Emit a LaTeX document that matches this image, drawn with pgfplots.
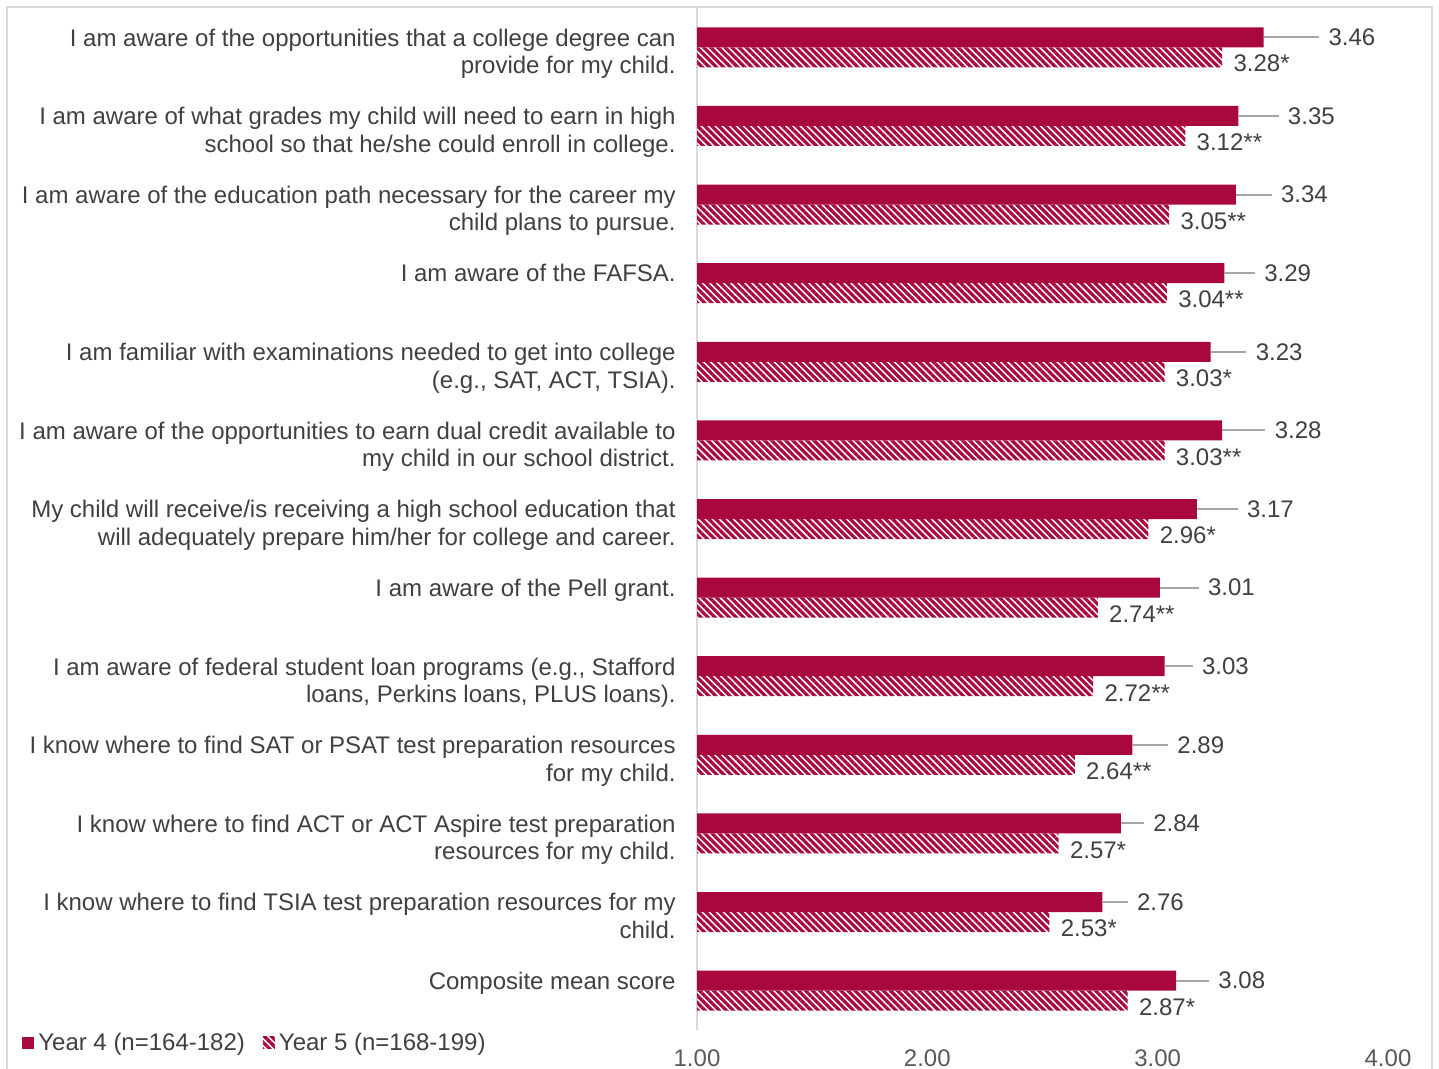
\documentclass[border=0pt]{standalone}
\usepackage{pgfplots}
\pgfplotsset{compat=1.18}
\usepackage{pgfplotstable}
\usepackage{fontspec}
\setmainfont{Liberation Sans}
\usetikzlibrary{patterns.meta}
\definecolor{barred}{RGB}{168,8,62}
\definecolor{txt}{HTML}{404040}
\definecolor{ticktxt}{HTML}{595959}
\definecolor{axisgray}{HTML}{D9D9D9}
\definecolor{leader}{HTML}{A6A6A6}
\pgfplotstableread{
idx y4 err y5 lab
0 3.46 0.241 3.28 3.28*
1 3.35 0.175 3.12 3.12**
2 3.34 0.155 3.05 3.05**
3 3.29 0.132 3.04 3.04**
4 3.23 0.155 3.03 3.03*
5 3.28 0.188 3.03 3.03**
6 3.17 0.177 2.96 2.96*
7 3.01 0.168 2.74 2.74**
8 3.03 0.122 2.72 2.72**
9 2.89 0.155 2.64 2.64**
10 2.84 0.100 2.57 2.57*
11 2.76 0.110 2.53 2.53*
12 3.08 0.143 2.87 2.87*
}\datatable
\newcommand{\lblfont}{\fontsize{12}{13.75}\selectfont}
\begin{document}
\begin{tikzpicture}
\useasboundingbox (0,0) rectangle (719.5pt,534.5pt);
\clip (0,0) rectangle (719.5pt,534.5pt);
\fill[white] (0,0) rectangle (719.5pt,534.5pt);
\draw[axisgray, line width=1pt] (3.35pt,-5pt) rectangle (715.85pt,531.15pt);
\begin{axis}[
  at={(348.5pt,19.5pt)}, anchor=south west,
  scale only axis, width=345.5pt, height=511pt,
  xbar, bar width=10pt,
  xmin=1, xmax=4, ymin=-0.5, ymax=12.5, y dir=reverse,
  clip=false,
  axis line style={draw=none},
  major tick length=0pt,
  xtick={1,2,3,4},
  ytick={0,...,12},
  yticklabels={
    {I am aware of the opportunities that a college degree can\\provide for my child.},
    {I am aware of what grades my child will need to earn in high\\school so that he/she could enroll in college.},
    {I am aware of the education path necessary for the career my\\child plans to pursue.},
    {I am aware of the FAFSA.},
    {I am familiar with examinations needed to get into college\\(e.g., SAT, ACT, TSIA).},
    {I am aware of the opportunities to earn dual credit available to\\my child in our school district.},
    {My child will receive/is receiving a high school education that\\will adequately prepare him/her for college and career.},
    {I am aware of the Pell grant.},
    {I am aware of federal student loan programs (e.g., Stafford\\loans, Perkins loans, PLUS loans).},
    {I know where to find SAT or PSAT test preparation resources\\for my child.},
    {I know where to find ACT or ACT Aspire test preparation\\resources for my child.},
    {I know where to find TSIA test preparation resources for my\\child.},
    {Composite mean score}
  },
  yticklabel style={align=right, anchor=north east, inner sep=0pt, xshift=-10.5pt, yshift=9.5pt, font=\lblfont, text=txt},
  xticklabel style={anchor=north, inner sep=0pt, yshift=-9.75pt, font=\lblfont, text=ticktxt,
    /pgf/number format/fixed, /pgf/number format/fixed zerofill, /pgf/number format/precision=2},
  /pgf/number format/assume math mode=true,
  legend style={at={(-0.9769,-0.0127)}, anchor=west, draw=none, fill=none, inner sep=0pt,
    legend columns=2, font=\lblfont, text=txt,
    /tikz/every even column/.append style={column sep=7pt}},
  legend cell align=left,
]
\draw[axisgray, line width=1pt] (rel axis cs:0,0) -- (rel axis cs:0,1);
\addplot[fill=barred, draw=none, bar shift=5pt,
  legend image code/.code={\fill[barred] (0pt,-3pt) rectangle (6pt,3pt);},
  point meta=x,
  visualization depends on={\thisrow{err} \as \errlen},
  nodes near coords={\pgfmathprintnumber[fixed,fixed zerofill,precision=2]{\pgfplotspointmeta}},
  nodes near coords align=horizontal,
  every node near coord/.append style={anchor=west, inner sep=0pt, xshift=\errlen*115.17pt+4.5pt, font=\lblfont, text=txt},
  error bars/.cd, x dir=plus, x explicit, error mark=none,
  error bar style={color=leader, line width=1pt}]
  table[x=y4, y=idx, x error=err] {\datatable};
\addlegendentry{Year 4 (n=164-182)}
\addplot[draw=none, pattern={Lines[angle=-45,distance=2.5pt,line width=1.6pt]}, pattern color=barred, bar shift=-5pt,
  legend image code/.code={\fill[pattern={Lines[angle=-45,distance=2.5pt,line width=1.6pt]}, pattern color=barred] (0pt,-3pt) rectangle (6pt,3pt);},
  point meta=explicit symbolic,
  nodes near coords,
  nodes near coords align=horizontal,
  every node near coord/.append style={anchor=west, inner sep=0pt, xshift=5.5pt, yshift=-3.2pt, font=\lblfont, text=txt}]
  table[x=y5, y=idx, meta=lab] {\datatable};
\addlegendentry{Year 5 (n=168-199)}
\end{axis}
\end{tikzpicture}
\end{document}
